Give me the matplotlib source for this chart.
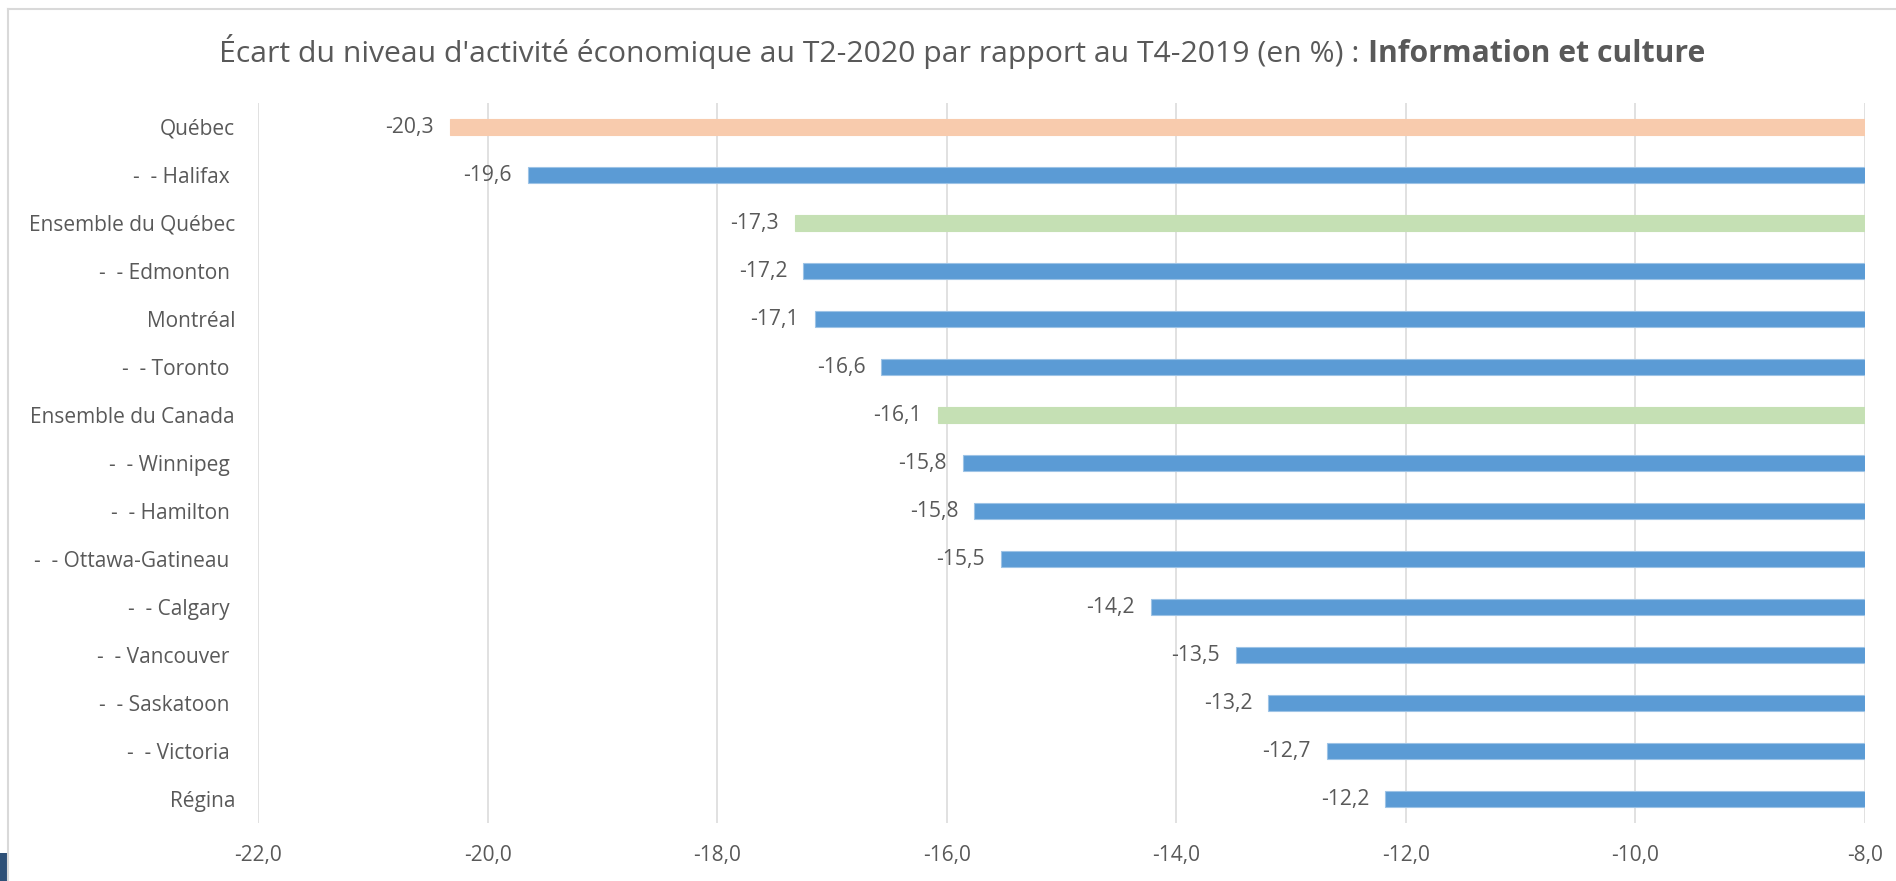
import matplotlib
matplotlib.use("Agg")
import matplotlib.pyplot as plt
from matplotlib.lines import Line2D
from matplotlib.patches import Rectangle

categories = ["Québec", "-  - Halifax ", "Ensemble du Québec", "-  - Edmonton ", "Montréal",
              "-  - Toronto ", "Ensemble du Canada", "-  - Winnipeg ", "-  - Hamilton ",
              "-  - Ottawa-Gatineau ", "-  - Calgary ", "-  - Vancouver ", "-  - Saskatoon ",
              "-  - Victoria ", "Régina"]
values = [-20.33, -19.65, -17.32, -17.25, -17.15, -16.57, -16.08, -15.86, -15.76,
          -15.53, -14.22, -13.48, -13.20, -12.69, -12.18]
value_labels = ["-20,3", "-19,6", "-17,3", "-17,2", "-17,1", "-16,6", "-16,1", "-15,8",
                "-15,8", "-15,5", "-14,2", "-13,5", "-13,2", "-12,7", "-12,2"]
groups = ["qc", "city", "total", "city", "city", "city", "total", "city", "city",
          "city", "city", "city", "city", "city", "city"]
xticks = [-22, -20, -18, -16, -14, -12, -10, -8]
xtick_labels = ["-22,0", "-20,0", "-18,0", "-16,0", "-14,0", "-12,0", "-10,0", "-8,0"]

title_normal = "Écart du niveau d'activité économique au T2-2020 par rapport au T4-2019 (en %) : "
title_bold = "Information et culture"

colors = {"qc": "#F8CBAD", "city": "#5B9BD5", "total": "#C5E0B4"}
edges = {"qc": "#F8CBAD", "city": "#9DC3E6", "total": "#C5E0B4"}
TXT = "#595959"
FONT = "Open Sans"

W, H = 1896, 881
fig = plt.figure(figsize=(W / 100, H / 100), dpi=100)
fig.patch.set_facecolor("white")

# chart frame and screenshot artefact
fig.add_artist(Line2D([8 / W, 1.0], [1 - 9 / H, 1 - 9 / H], color="#D9D9D9", lw=1.5))
fig.add_artist(Line2D([8 / W, 8 / W], [1 - 9 / H, 0.0], color="#D9D9D9", lw=1.5))
fig.add_artist(Rectangle((0, 0), 7 / W, 28 / H, facecolor="#2E5077", edgecolor="none"))

ax = fig.add_axes([258 / W, 1 - 823 / H, (1865 - 258) / W, 720 / H])
y = list(range(len(categories)))
for yi, v, g in zip(y, values, groups):
    ax.barh(yi, v, height=0.32, color=colors[g], edgecolor=edges[g], linewidth=0.8, zorder=3)
for yi, v, lab in zip(y, values, value_labels):
    ax.annotate(lab, xy=(v, yi), xytext=(-11.5, 0), textcoords="offset points",
                ha="right", va="center", fontsize=15.2, color=TXT, family=FONT)

ax.set_xlim(-22, -8)
ax.set_ylim(len(categories) - 0.5, -0.5)
ax.set_xticks(xticks)
ax.set_xticklabels(xtick_labels)
ax.set_yticks(y)
ax.set_yticklabels(categories)
ax.tick_params(axis="both", length=0, labelsize=15, labelcolor=TXT)
ax.tick_params(axis="x", pad=16)
ax.tick_params(axis="y", pad=16.5)
for lab in ax.get_xticklabels() + ax.get_yticklabels():
    lab.set_family(FONT)
for s in ax.spines.values():
    s.set_visible(False)
ax.grid(axis="x", color="#D9D9D9", lw=1.1, zorder=0)
ax.set_axisbelow(True)

# two-part title, centred
ty = 1 - 62 / H
t1 = fig.text(0, ty, title_normal, fontsize=21.7, color=TXT, family=FONT, va="baseline", ha="left")
t2 = fig.text(0, ty, title_bold, fontsize=21.7, color=TXT, family=FONT, weight="bold", va="baseline", ha="left")
r = fig.canvas.get_renderer()
w1 = t1.get_window_extent(r).width
w2 = t2.get_window_extent(r).width
x0 = 962 - (w1 + w2) / 2
t1.set_x(x0 / W)
t2.set_x((x0 + w1) / W)

fig.savefig("out.png", dpi=100)
